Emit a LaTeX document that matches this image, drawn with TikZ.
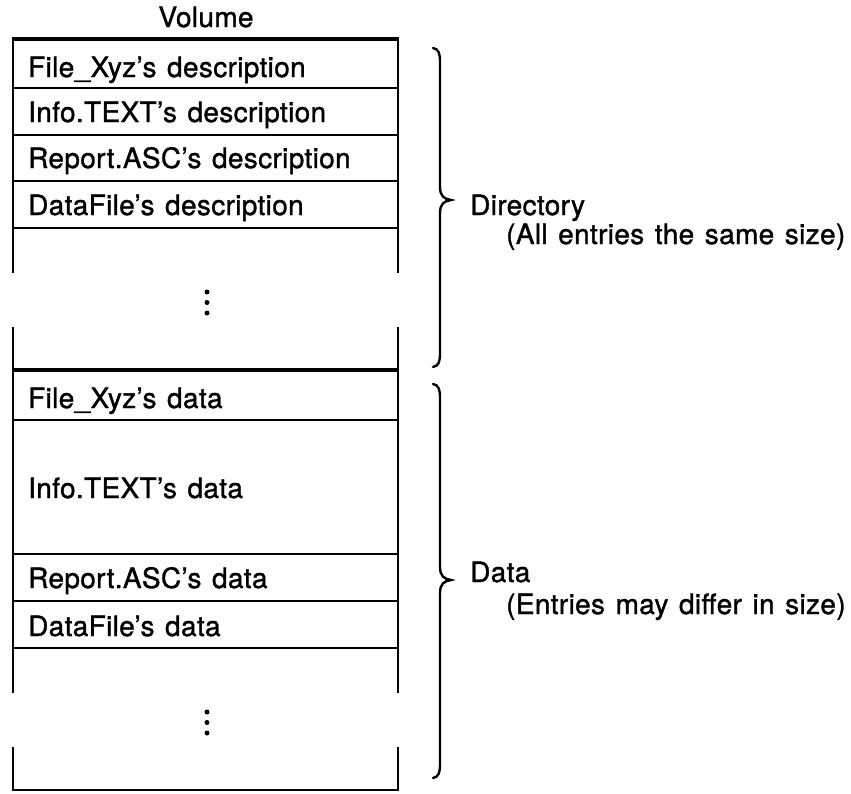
\documentclass[tikz,border=0pt]{standalone}
\usepackage{fontspec}
\setmainfont[LetterSpace=1.2,WordSpace=1.3,FakeBold=1.2]{TeX Gyre Heros}
\begin{document}
\begin{tikzpicture}[x=1pt,y=-1pt,
  thinrule/.style={line width=2.6pt},
  thickrule/.style={line width=4pt},
  braceline/.style={line width=2.4pt, line cap=round},
  lbl/.style={anchor=base west, inner sep=0pt, font=\fontsize{28}{31}\selectfont},
  ttl/.style={anchor=base, inner sep=0pt, font=\fontsize{28}{31}\selectfont},
  vdot/.style={circle, fill=black, inner sep=0pt, minimum size=5pt}]
\useasboundingbox (0,0) rectangle (851,793);
\fill[white] (0,0) rectangle (851,793);

% title
\node[ttl] (vol) at (206,27) {Volume};

% outline, directory part
\draw[thinrule] (13,39) -- (13,273);
\draw[thinrule] (398,39) -- (398,273);
\draw[thinrule] (13,327) -- (13,370);
\draw[thinrule] (398,327) -- (398,370);
% data part
\draw[thinrule] (13,370) -- (13,693);
\draw[thinrule] (398,370) -- (398,693);
\draw[thinrule] (13,747) -- (13,791);
\draw[thinrule] (398,747) -- (398,791);

% thick rules
\draw[thickrule] (11.7,39) -- (399.3,39);
\draw[thickrule] (11.7,370) -- (399.3,370);
% thin rules
\foreach \yy in {88,135,181,228,420,554,601,648}
  \draw[thinrule] (13,\yy) -- (398,\yy);
\draw[thinrule] (11.7,790) -- (399.3,790);

% directory entries
\node[lbl] (d1) at (28,77) {File\_Xyz’s description};
\node[lbl] (d2) at (28,122) {Info.TEXT’s description};
\node[lbl] (d3) at (28,168) {Report.ASC’s description};
\node[lbl] (d4) at (28,215) {DataFile’s description};
\node[vdot] (dd1) at (207,292) {};
\node[vdot] (dd2) at (207,302.5) {};
\node[vdot] (dd3) at (207,313) {};

% data entries
\node[lbl] (e1) at (28,408) {File\_Xyz’s data};
\node[lbl] (e2) at (28,498) {Info.TEXT’s data};
\node[lbl] (e3) at (28,588) {Report.ASC’s data};
\node[lbl] (e4) at (28,636) {DataFile’s data};
\node[vdot] (ed1) at (207,712) {};
\node[vdot] (ed2) at (207,722.5) {};
\node[vdot] (ed3) at (207,733) {};

% braces
\draw[braceline] (433,48) .. controls (439,49) and (440,54) .. (440,62) -- (440,187)
  .. controls (440,196) and (444,199) .. (451,200)
  .. controls (444,201) and (440,204) .. (440,213) -- (440,353)
  .. controls (440,361) and (439,366) .. (433,367);
\draw[braceline] (433,384) .. controls (439,385) and (440,390) .. (440,398) -- (440,567)
  .. controls (440,576) and (444,579) .. (451,580)
  .. controls (444,581) and (440,584) .. (440,593) -- (440,764)
  .. controls (440,772) and (439,777) .. (433,778);

% group labels
\node[lbl] (dir) at (470,215) {Directory};
\node[lbl] (dirnote) at (506,244) {(All entries the same size)};
\node[lbl] (dat) at (470,582) {Data};
\node[lbl] (datnote) at (506,614) {(Entries may differ in size)};
\end{tikzpicture}
\end{document}
